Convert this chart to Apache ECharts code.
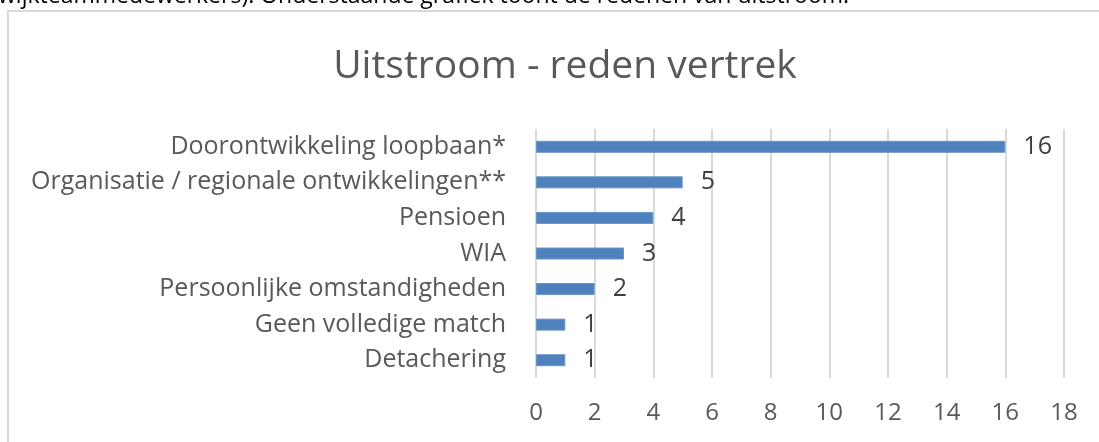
<!DOCTYPE html>
<html>
<head>
<meta charset="utf-8">
<script src="https://cdn.jsdelivr.net/npm/echarts@6/dist/echarts.min.js"></script>
<style>
html, body { margin: 0; padding: 0; background: #fff; }
#myChart { width: 1099px; height: 442px; }
</style>
</head>
<body>
<div id="myChart"></div>
<script>
// categories from top to bottom as in the picture
const redenen = [
  'Doorontwikkeling loopbaan*',
  'Organisatie / regionale ontwikkelingen**',
  'Pensioen',
  'WIA',
  'Persoonlijke omstandigheden',
  'Geen volledige match',
  'Detachering'
]
const aantallen = [16, 5, 4, 3, 2, 1, 1]
const titel = 'Uitstroom - reden vertrek'
const tekstBoven = 'wijkteammedewerkers). Onderstaande grafiek toont de redenen van uitstroom.'

const font = '"Open Sans", sans-serif'
let myChart = echarts.init(document.getElementById('myChart'))

myChart.setOption({
  animation: false,
  title: {
    text: titel,
    left: 560,
    textAlign: 'center',
    top: 42,
    textStyle: { color: '#595959', fontSize: 39, fontWeight: 'normal', fontFamily: font }
  },
  graphic: [
    {
      type: 'rect',
      shape: { x: 8, y: 11, width: 1200, height: 500 },
      style: { fill: 'none', stroke: '#d9d9d9', lineWidth: 2 }
    },
    {
      type: 'text',
      left: -2,
      top: -15,
      style: { text: tekstBoven, fill: '#000', font: '23px ' + font }
    }
  ],
  grid: { left: 536, right: 35, top: 129, bottom: 64 },
  xAxis: {
    type: 'value',
    min: 0,
    max: 18,
    interval: 2,
    axisLine: { show: false },
    axisTick: { show: false },
    splitLine: { lineStyle: { color: '#d9d9d9', width: 2 } },
    axisLabel: { color: '#595959', fontSize: 24, fontFamily: font, margin: 23 }
  },
  yAxis: {
    type: 'category',
    inverse: true,
    data: redenen,
    axisLine: { show: false },
    axisTick: { show: false },
    axisLabel: { color: '#595959', fontSize: 25, fontFamily: font, margin: 30 }
  },
  series: [
    {
      type: 'bar',
      data: aantallen,
      barWidth: 12,
      itemStyle: { color: '#4f81bd', borderColor: '#6a95c9', borderWidth: 1 },
      label: {
        show: true,
        position: 'right',
        distance: 18,
        color: '#404040',
        fontSize: 25,
        fontFamily: font
      }
    }
  ]
})
</script>
</body>
</html>
